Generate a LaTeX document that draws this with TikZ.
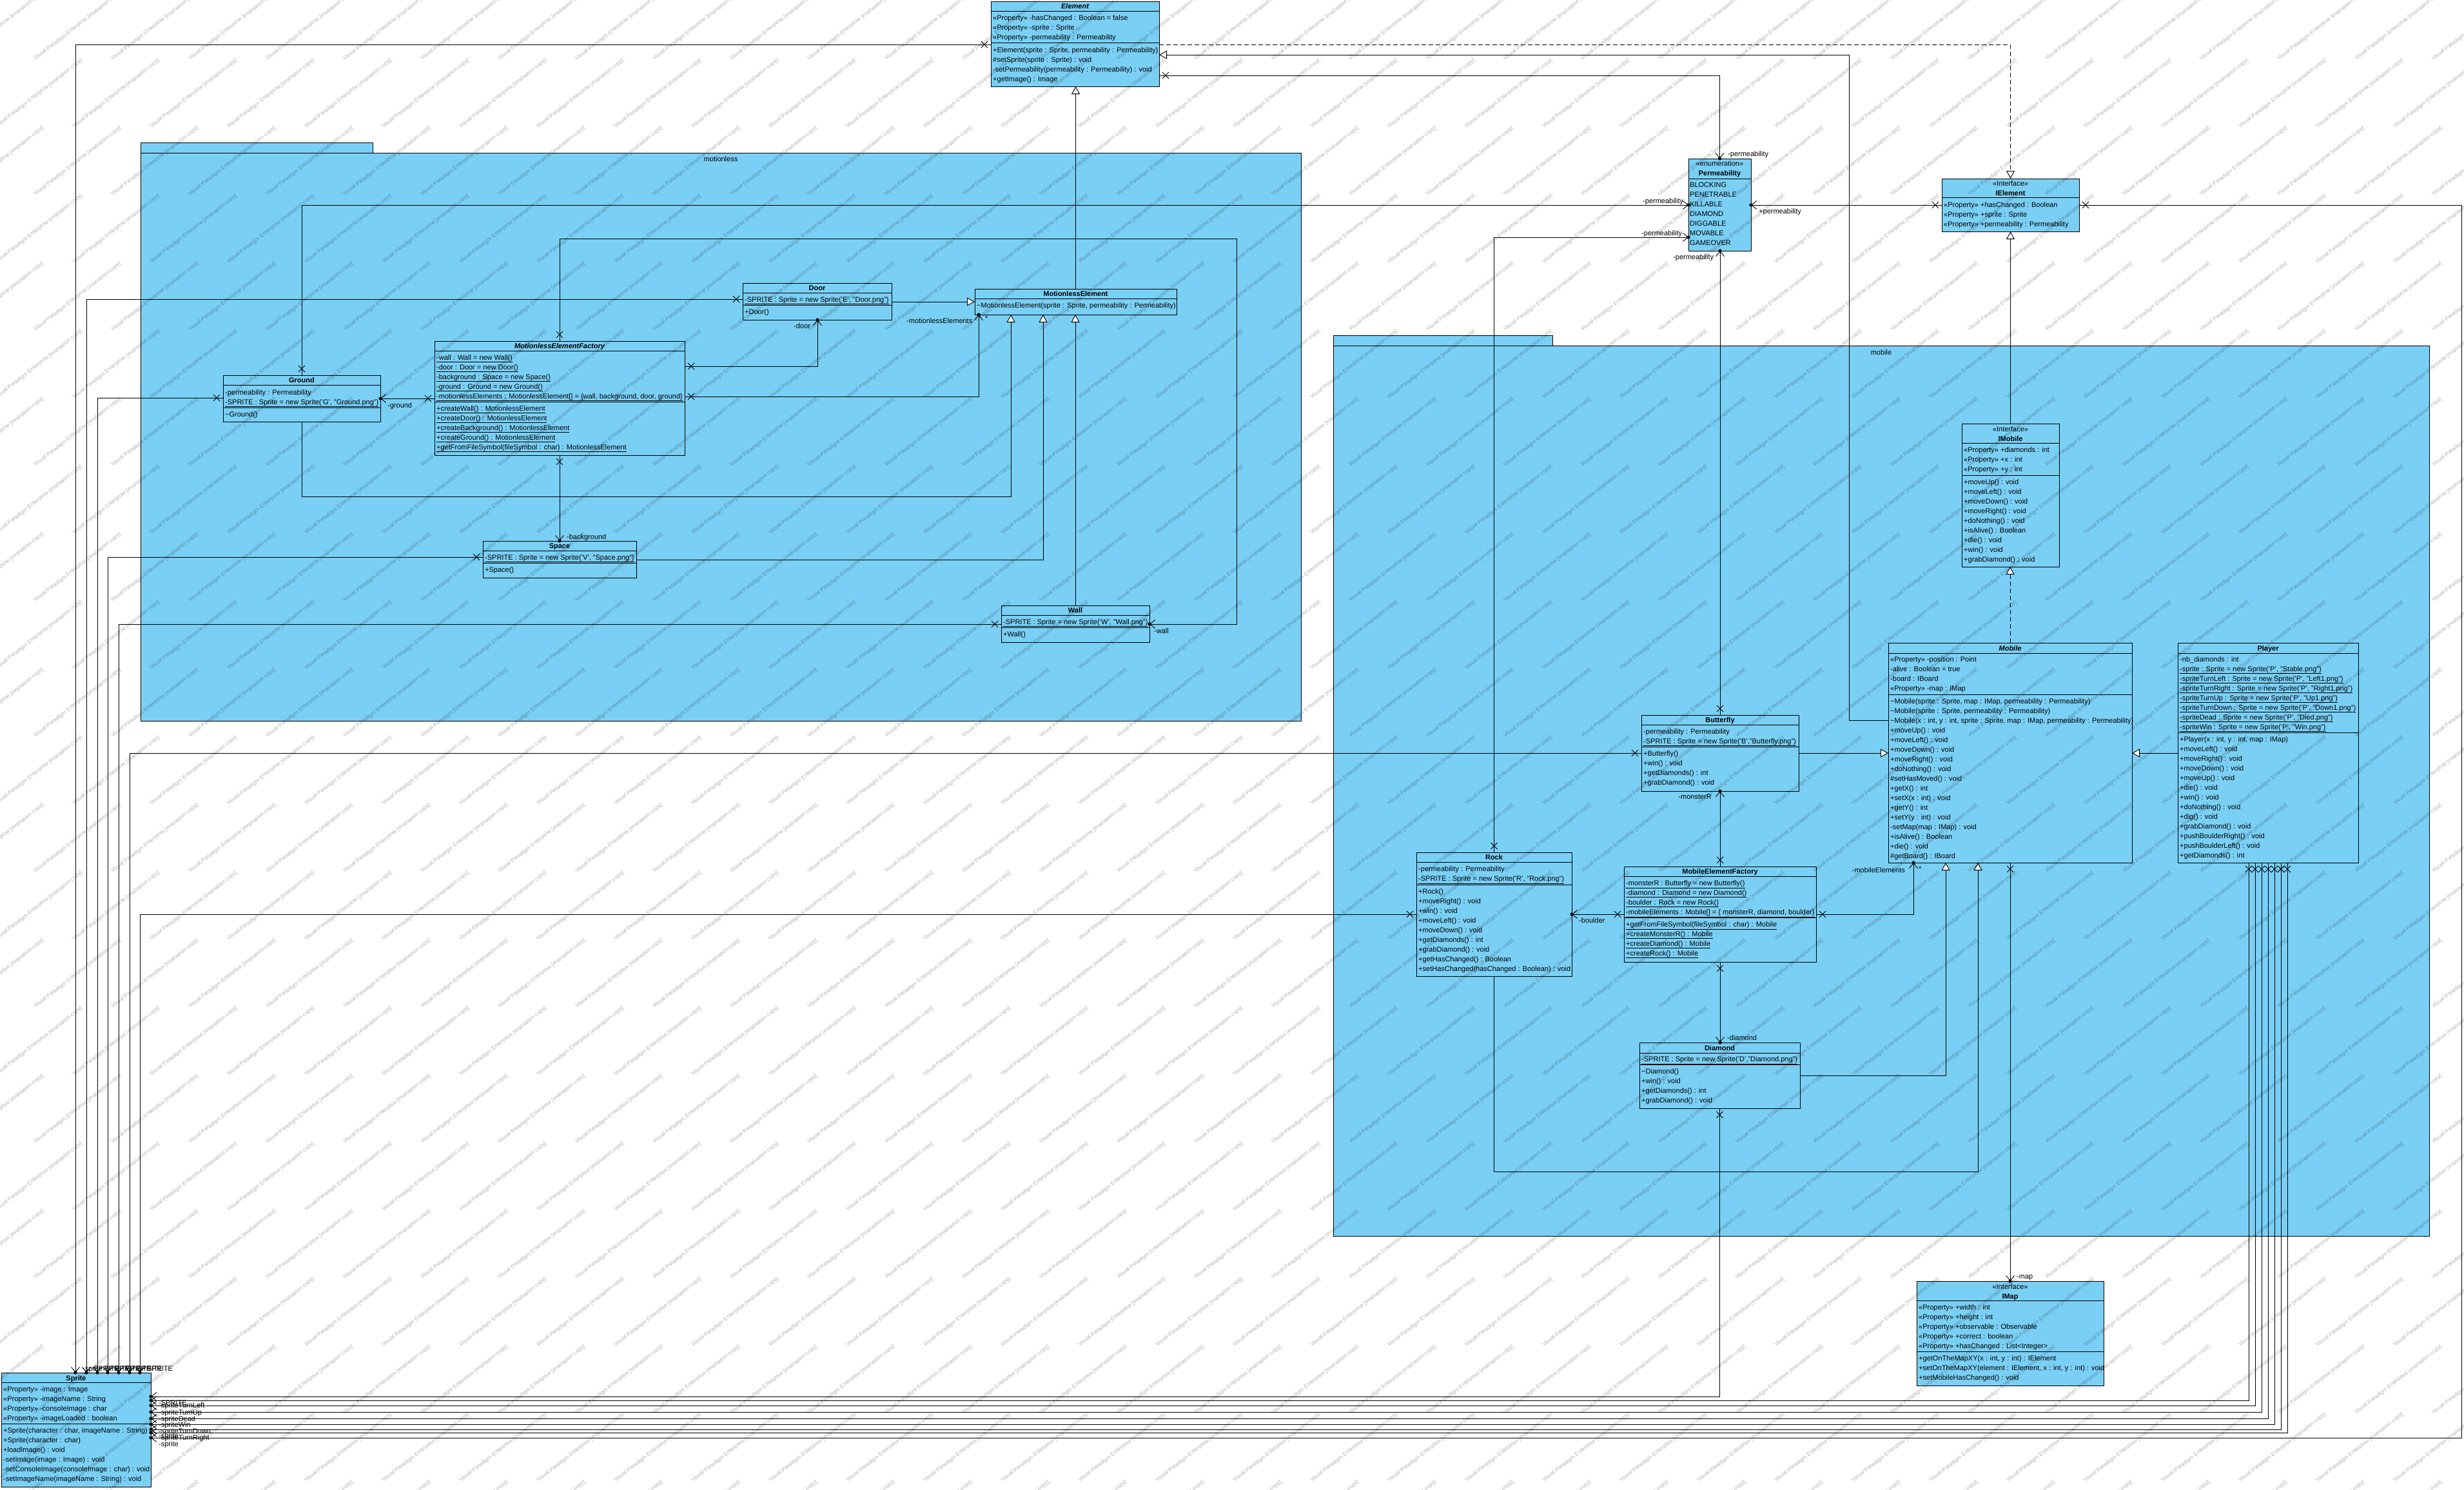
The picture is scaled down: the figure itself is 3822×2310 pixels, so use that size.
\documentclass[tikz,border=0pt]{standalone}
\usepackage{fontspec}
\setmainfont{Liberation Sans}
\usetikzlibrary{arrows.meta,decorations.markings}
\definecolor{vpblue}{RGB}{122,207,245}
\newcommand\fsz{\fontsize{11}{13}\selectfont}
\newcount\rowc
\newcount\rowy
\def\rowx{0}
\newcommand\setrows[2]{\def\rowx{#1}\global\rowy=#2\relax}
\newcommand\crow[1]{\global\advance\rowc by 1\relax\node[tx] (w\the\rowc) at (\rowx,\the\rowy+4) {#1};\global\advance\rowy by 15\relax}
\newcommand\ctitle[3]{\global\advance\rowc by 1\relax\node[ttl] (w\the\rowc) at (#1,#2+4) {#3};}
\newcommand\csep[2]{\draw[sepst] (#1.west |- 0,#2) -- (#1.east |- 0,#2);}
\newcommand\uln[1]{\underline{#1}}
\begin{document}
\begin{tikzpicture}[x=1pt,y=-1pt,
 cls/.style={draw, fill=vpblue, line width=0.9pt, inner sep=0pt, outer sep=0pt, anchor=north west},
 tx/.style={anchor=base west, inner sep=0pt, font=\fsz},
 ttl/.style={anchor=base, inner sep=0pt, font=\fsz\bfseries},
 lbl/.style={anchor=base west, inner sep=0pt, font=\fsz},
 sepst/.style={line width=0.9pt},
 pkg/.style={draw, fill=vpblue, line width=0.9pt},
 conn/.style={line width=0.9pt},
 gen/.style={conn, -{Triangle[length=12pt,width=13pt,fill=white,line width=0.9pt]}},
 rea/.style={gen, dash pattern=on 7pt off 4pt},
 asc/.style={conn, -{Straight Barb[length=8pt,width=13pt,line width=0.9pt]},
   postaction={decorate, decoration={markings,
     mark=at position 10pt with {\draw[-,solid,line width=0.9pt] (-5pt,-5pt)--(5pt,5pt) (-5pt,5pt)--(5pt,-5pt);},
     mark=at position 1 with {\fill (0,0) circle (2.6pt);}}}},
 wm/.style={rotate=38, font=\fontsize{8.5}{10}\selectfont, text=black, text opacity=0.3, inner sep=0pt}
]
\useasboundingbox (0,0) rectangle (3822,2310);
\fill[white] (0,0) rectangle (3822,2310);

% packages
\draw[pkg] (218,221) rectangle (578,237);
\draw[pkg] (218,237) rectangle (2018,1118);
\node[lbl, anchor=base] (pk1) at (1118,250) {motionless};
\draw[pkg] (2068,520) rectangle (2408,536);
\draw[pkg] (2068,536) rectangle (3768,1917);
\node[lbl, anchor=base] (pk2) at (2918,550) {mobile};

% Element
\node[cls,minimum width=261,minimum height=132] (elem) at (1537,2) {};
\ctitle{1667.5}{9.5}{\itshape Element}
\csep{elem}{17}\csep{elem}{66}
\setrows{1540}{27}
\crow{<<Property>> -hasChanged : Boolean = false}
\crow{<<Property>> -sprite : Sprite}
\crow{<<Property>> -permeability : Permeability}
\setrows{1540}{77}
\crow{+Element(sprite : Sprite, permeability : Permeability)}
\crow{\#setSprite(sprite : Sprite) : void}
\crow{-setPermeability(permeability : Permeability) : void}
\crow{+getImage() : Image}

% Permeability
\node[cls,minimum width=97,minimum height=143] (perm) at (2619,246) {};
\ctitle{2667.5}{253.5}{\mdseries <<enumeration>>}
\ctitle{2667.5}{268}{Permeability}
\csep{perm}{277}
\setrows{2621}{286}
\crow{BLOCKING}\crow{PENETRABLE}\crow{KILLABLE}\crow{DIAMOND}\crow{DIGGABLE}\crow{MOVABLE}\crow{GAMEOVER}

% IElement
\node[cls,minimum width=213,minimum height=82] (ielem) at (3012,277) {};
\ctitle{3118.5}{284.5}{\mdseries <<Interface>>}
\ctitle{3118.5}{299}{IElement}
\csep{ielem}{306}
\setrows{3015}{317}
\crow{<<Property>> +hasChanged : Boolean}
\crow{<<Property>> +sprite : Sprite}
\crow{<<Property>> +permeability : Permeability}

% Door
\node[cls,minimum width=231,minimum height=57] (door) at (1152,439) {};
\ctitle{1267.5}{446.5}{Door}
\csep{door}{454}\csep{door}{473}
\setrows{1155}{464}\crow{\uln{-SPRITE : Sprite = new Sprite('E', "Door.png")}}
\setrows{1155}{483}\crow{+Door()}

% MotionlessElement
\node[cls,minimum width=313,minimum height=40] (mel) at (1512,448) {};
\ctitle{1668.5}{455.5}{MotionlessElement}
\csep{mel}{463}
\setrows{1515}{473}\crow{\textasciitilde MotionlessElement(sprite : Sprite, permeability : Permeability)}

% MotionlessElementFactory
\node[cls,minimum width=388,minimum height=177] (mef) at (674,529) {};
\ctitle{868}{536.5}{\itshape MotionlessElementFactory}
\csep{mef}{544}\csep{mef}{623}
\setrows{677}{554}
\crow{\uln{-wall : Wall = new Wall()}}
\crow{\uln{-door : Door = new Door()}}
\crow{\uln{-background : Space = new Space()}}
\crow{\uln{-ground : Ground = new Ground()}}
\crow{\uln{-motionlessElements : MotionlessElement[] = \{wall, background, door, ground\}}}
\setrows{677}{633}
\crow{\uln{+createWall() : MotionlessElement}}
\crow{\uln{+createDoor() : MotionlessElement}}
\crow{\uln{+createBackground() : MotionlessElement}}
\crow{\uln{+createGround() : MotionlessElement}}
\crow{\uln{+getFromFileSymbol(fileSymbol : char) : MotionlessElement}}

% Ground
\node[cls,minimum width=244,minimum height=72] (ground) at (346,582) {};
\ctitle{468}{589.5}{Ground}
\csep{ground}{597}\csep{ground}{632}
\setrows{349}{608}
\crow{-permeability : Permeability}
\crow{\uln{-SPRITE : Sprite = new Sprite('G', "Ground.png")}}
\setrows{349}{642}\crow{\textasciitilde Ground()}

% Space
\node[cls,minimum width=238,minimum height=57] (space) at (749,839) {};
\ctitle{868}{846.5}{Space}
\csep{space}{854}\csep{space}{873}
\setrows{752}{864}\crow{\uln{-SPRITE : Sprite = new Sprite('V', "Space.png")}}
\setrows{752}{883}\crow{+Space()}

% Wall
\node[cls,minimum width=230,minimum height=57] (wall) at (1553,939) {};
\ctitle{1668}{946.5}{Wall}
\csep{wall}{954}\csep{wall}{973}
\setrows{1556}{964}\crow{\uln{-SPRITE : Sprite = new Sprite('W', "Wall.png")}}
\setrows{1556}{983}\crow{+Wall()}

% IMobile
\node[cls,minimum width=151,minimum height=222] (imob) at (3043,657) {};
\ctitle{3118.5}{665}{\mdseries <<Interface>>}
\ctitle{3118.5}{680}{IMobile}
\csep{imob}{687}\csep{imob}{737}
\setrows{3046}{697}
\crow{<<Property>> +diamonds : int}
\crow{<<Property>> +x : int}
\crow{<<Property>> +y : int}
\setrows{3046}{747}
\crow{+moveUp() : void}
\crow{+moveLeft() : void}
\crow{+moveDown() : void}
\crow{+moveRight() : void}
\crow{+doNothing() : void}
\crow{+isAlive() : Boolean}
\crow{+die() : void}
\crow{+win() : void}
\crow{+grabDiamond() : void}

% Mobile
\node[cls,minimum width=378,minimum height=341] (mob) at (2929,997) {};
\ctitle{3118}{1005}{\itshape Mobile}
\csep{mob}{1013}\csep{mob}{1077}
\setrows{2932}{1022}
\crow{<<Property>> -position : Point}
\crow{-alive : Boolean = true}
\crow{-board : IBoard}
\crow{<<Property>> -map : IMap}
\setrows{2932}{1087}
\crow{\textasciitilde Mobile(sprite : Sprite, map : IMap, permeability : Permeability)}
\crow{\textasciitilde Mobile(sprite : Sprite, permeability : Permeability)}
\crow{\textasciitilde Mobile(x : int, y : int, sprite : Sprite, map : IMap, permeability : Permeability)}
\crow{+moveUp() : void}
\crow{+moveLeft() : void}
\crow{+moveDown() : void}
\crow{+moveRight() : void}
\crow{+doNothing() : void}
\crow{\#setHasMoved() : void}
\crow{+getX() : int}
\crow{+setX(x : int) : void}
\crow{+getY() : int}
\crow{+setY(y : int) : void}
\crow{-setMap(map : IMap) : void}
\crow{+isAlive() : Boolean}
\crow{+die() : void}
\crow{\#getBoard() : IBoard}

% Player
\node[cls,minimum width=280,minimum height=341] (player) at (3378,997) {};
\ctitle{3518}{1005}{Player}
\csep{player}{1013}\csep{player}{1136}
\setrows{3381}{1022}
\crow{-nb\_diamonds : int}
\crow{\uln{-sprite : Sprite = new Sprite('P', "Stable.png")}}
\crow{\uln{-spriteTurnLeft : Sprite = new Sprite('P', "Left1.png")}}
\crow{\uln{-spriteTurnRight : Sprite = new Sprite('P', "Right1.png")}}
\crow{\uln{-spriteTurnUp : Sprite = new Sprite('P', "Up1.png")}}
\crow{\uln{-spriteTurnDown : Sprite = new Sprite('P', "Down1.png")}}
\crow{\uln{-spriteDead : Sprite = new Sprite('P', "Died.png")}}
\crow{\uln{-spriteWin : Sprite = new Sprite('P', "Win.png")}}
\setrows{3381}{1146}
\crow{+Player(x : int, y : int, map : IMap)}
\crow{+moveLeft() : void}
\crow{+moveRight() : void}
\crow{+moveDown() : void}
\crow{+moveUp() : void}
\crow{+die() : void}
\crow{+win() : void}
\crow{+doNothing() : void}
\crow{+dig() : void}
\crow{+grabDiamond() : void}
\crow{+pushBoulderRight() : void}
\crow{+pushBoulderLeft() : void}
\crow{+getDiamonds() : int}

% Butterfly
\node[cls,minimum width=244,minimum height=118] (bfly) at (2546,1109) {};
\ctitle{2668}{1116.5}{Butterfly}
\csep{bfly}{1124}\csep{bfly}{1158}
\setrows{2549}{1134}
\crow{-permeability : Permeability}
\crow{\uln{-SPRITE : Sprite = new Sprite('B',"Butterfly.png")}}
\setrows{2549}{1168}
\crow{+Butterfly()}
\crow{+win() : void}
\crow{+getDiamonds() : int}
\crow{+grabDiamond() : void}

% Rock
\node[cls,minimum width=241,minimum height=192] (rock) at (2197,1322) {};
\ctitle{2317.5}{1329.5}{Rock}
\csep{rock}{1337}\csep{rock}{1372}
\setrows{2200}{1347}
\crow{-permeability : Permeability}
\crow{\uln{-SPRITE : Sprite = new Sprite('R', "Rock.png")}}
\setrows{2200}{1382}
\crow{+Rock()}
\crow{+moveRight() : void}
\crow{+win() : void}
\crow{+moveLeft() : void}
\crow{+moveDown() : void}
\crow{+getDiamonds() : int}
\crow{+grabDiamond() : void}
\crow{+getHasChanged() : Boolean}
\crow{+setHasChanged(hasChanged : Boolean) : void}

% MobileElementFactory
\node[cls,minimum width=298,minimum height=148] (mobf) at (2519,1344) {};
\ctitle{2668}{1351.5}{MobileElementFactory}
\csep{mobf}{1359}\csep{mobf}{1423}
\setrows{2522}{1369}
\crow{\uln{-monsterR : Butterfly = new Butterfly()}}
\crow{\uln{-diamond : Diamond = new Diamond()}}
\crow{\uln{-boulder : Rock = new Rock()}}
\crow{\uln{-mobileElements : Mobile[] = \{ monsterR, diamond, boulder\}}}
\setrows{2522}{1433}
\crow{\uln{+getFromFileSymbol(fileSymbol : char) : Mobile}}
\crow{\uln{+createMonsterR() : Mobile}}
\crow{\uln{+createDiamond() : Mobile}}
\crow{\uln{+createRock() : Mobile}}

% Diamond
\node[cls,minimum width=249,minimum height=102] (diam) at (2543,1617) {};
\ctitle{2667.5}{1625}{Diamond}
\csep{diam}{1633}\csep{diam}{1651}
\setrows{2546}{1642}\crow{\uln{-SPRITE : Sprite = new Sprite('D',"Diamond.png")}}
\setrows{2546}{1661}
\crow{\textasciitilde Diamond()}
\crow{+win() : void}
\crow{+getDiamonds() : int}
\crow{+grabDiamond() : void}

% IMap
\node[cls,minimum width=290,minimum height=162] (imap) at (2973,1987) {};
\ctitle{3118}{1995}{\mdseries <<Interface>>}
\ctitle{3118}{2010}{IMap}
\csep{imap}{2017}\csep{imap}{2096}
\setrows{2976}{2027}
\crow{<<Property>> +width : int}
\crow{<<Property>> +height : int}
\crow{<<Property>> +observable : Observable}
\crow{<<Property>> +correct : boolean}
\crow{<<Property>> +hasChanged : List<Integer>}
\setrows{2976}{2106}
\crow{+getOnTheMapXY(x : int, y : int) : IElement}
\crow{+setOnTheMapXY(element : IElement, x : int, y : int) : void}
\crow{+setMobileHasChanged() : void}

% Sprite
\node[cls,minimum width=232,minimum height=177] (spr) at (2,2129) {};
\ctitle{118}{2137}{Sprite}
\csep{spr}{2144}\csep{spr}{2208}
\setrows{5}{2154}
\crow{<<Property>> -image : Image}
\crow{<<Property>> -imageName : String}
\crow{<<Property>> -consoleImage : char}
\crow{<<Property>> -imageLoaded : boolean}
\setrows{5}{2218}
\crow{+Sprite(character : char, imageName : String)}
\crow{+Sprite(character : char)}
\crow{+loadImage() : void}
\crow{-setImage(image : Image) : void}
\crow{-setConsoleImage(consoleImage : char) : void}
\crow{-setImageName(imageName : String) : void}

% ---------- generalizations / realizations ----------
\draw[gen] (mel.north) -- (elem.south -| mel.north);
\draw[gen] (door.east |- 0,468) -- (mel.west |- 0,468);
\draw[gen] (space.east |- 0,868) -| (mel.south -| 1618,0);
\draw[gen] (ground.south) |- (1568,770) -- (mel.south -| 1568,0);
\draw[gen] (wall.north) -- (mel.south -| wall.north);
\draw[gen] (mob.west |- 0,1117) -- (2868,1117) -- (2868,85) -- (elem.east |- 0,85);
\draw[rea] (elem.east |- 0,69) -| (ielem.north);
\draw[gen] (imob.north) -- (ielem.south -| imob.north);
\draw[rea] (mob.north) -- (imob.south -| mob.north);
\draw[gen] (player.west |- 0,1168) -- (mob.east |- 0,1168);
\draw[gen] (bfly.east |- 0,1168) -- (mob.west |- 0,1168);
\draw[gen] (rock.south) |- (3068,1817) -- (mob.south -| 3068,0);
\draw[gen] (diam.east |- 0,1668) -| (mob.south -| 3018,0);

% ---------- associations ----------
\draw[asc] (elem.west |- 0,69) -| (spr.north -| 117,0);
\draw[asc] (elem.east |- 0,117) -| (perm.north);
\draw[asc] (ground.north) |- (perm.west |- 0,318);
\draw[asc] (door.west |- 0,464) -| (spr.north -| 134,0);
\draw[asc] (ground.west |- 0,617) -| (spr.north -| 151,0);
\draw[asc] (space.west |- 0,864) -| (spr.north -| 167,0);
\draw[asc] (wall.west |- 0,968) -| (spr.north -| 184,0);
\draw[asc] (bfly.west |- 0,1168) -| (spr.north -| 201,0);
\draw[asc] (rock.west |- 0,1418) -| (spr.north -| 217,0);
\draw[asc] (mef.east |- 0,568) -| (door.south -| 1268,0);
\draw[asc] (mef.east |- 0,615) -| (mel.south -| 1518,0);
\draw[asc] (mef.west |- 0,618) -- (ground.east |- 0,618);
\draw[asc] (mef.south) -- (space.north);
\draw[asc] (mef.north) |- (1918,370) |- (wall.east |- 0,968);
\draw[asc] (bfly.north) -- (perm.south -| bfly.north);
\draw[asc] (rock.north) |- (perm.west |- 0,368);
\draw[asc] (mobf.north) -- (bfly.south);
\draw[asc] (mobf.west |- 0,1418) -- (rock.east |- 0,1418);
\draw[asc] (mobf.south) -- (diam.north -| mobf.south);
\draw[asc] (mobf.east |- 0,1418) -| (mob.south -| 2968,0);
\draw[asc] (mob.south) -- (imap.north);
\draw[asc] (ielem.west |- 0,318) -- (perm.east |- 0,318);
\draw[asc] (diam.south) |- (spr.east |- 0,2166);
\draw[asc] (player.south -| 3488,0) |- (spr.east |- 0,2172);
\draw[asc] (player.south -| 3498,0) |- (spr.east |- 0,2180);
\draw[asc] (player.south -| 3508,0) |- (spr.east |- 0,2190);
\draw[asc] (player.south -| 3518,0) |- (spr.east |- 0,2200);
\draw[asc] (player.south -| 3528,0) |- (spr.east |- 0,2209);
\draw[asc] (player.south -| 3538,0) |- (spr.east |- 0,2217);
\draw[asc] (player.south -| 3548,0) |- (spr.east |- 0,2222);
\draw[asc] (ielem.east |- 0,318) -- (3818,318) |- (spr.east |- 0,2230);

% ---------- labels ----------
\node[lbl] (L1) at (128,2126) {-sprite};
\node[lbl] (L2) at (145,2126) {SPRITE};
\node[lbl] (L3) at (162,2126) {SPRITE};
\node[lbl] (L4) at (178,2126) {SPRITE};
\node[lbl] (L5) at (195,2126) {SPRITE};
\node[lbl] (L6) at (212,2126) {SPRITE};
\node[lbl] (L7) at (228,2126) {SPRITE};
\node[lbl] (L8) at (246,2179) {-SPRITE};
\node[lbl] (L9) at (246,2183) {-spriteTurnLeft};
\node[lbl] (L10) at (246,2194) {-spriteTurnUp};
\node[lbl] (L11) at (246,2204) {-spriteDead};
\node[lbl] (L12) at (246,2213) {-spriteWin};
\node[lbl] (L13) at (246,2223) {-spriteTurnDown};
\node[lbl] (L14) at (246,2230) {-sprite};
\node[lbl] (L15) at (246,2233) {-spriteTurnRight};
\node[lbl] (L16) at (246,2243) {-sprite};
\node[lbl] (L17) at (2680,242) {-permeability};
\node[lbl] (L18) at (2548,315) {-permeability};
\node[lbl] (L19) at (2546,365) {-permeability};
\node[lbl] (L20) at (2595,402) {-permeability};
\node[lbl] (L21) at (2728,331) {+permeability};
\node[lbl] (L22) at (601,632) {-ground};
\node[lbl] (L23) at (1231,509) {-door};
\node[lbl] (L24) at (1406,501) {-motionlessElements};
\node[lbl] (L25) at (1528,497) {*};
\node[lbl] (L26) at (879,836) {-background};
\node[lbl] (L27) at (1790,982) {-wall};
\node[lbl, anchor=base east] (L28) at (2655,1239) {-monsterR};
\node[lbl] (L29) at (2449,1431) {-boulder};
\node[lbl] (L30) at (2679,1613) {-diamond};
\node[lbl] (L31) at (3128,1983) {-map};
\node[lbl, anchor=base east] (L32) at (2955,1353) {-mobileElements};
\node[lbl] (L33) at (2976,1351) {*};

% ---------- watermark ----------
\foreach \i in {0,...,32}{\foreach \j in {0,...,22}{
  \node[wm] (wm-\i-\j) at ({\i*120+mod(\j,2)*60},{\j*105+40}) {Visual Paradigm Enterprise [evaluation copy]};
}}
\end{tikzpicture}
\end{document}
